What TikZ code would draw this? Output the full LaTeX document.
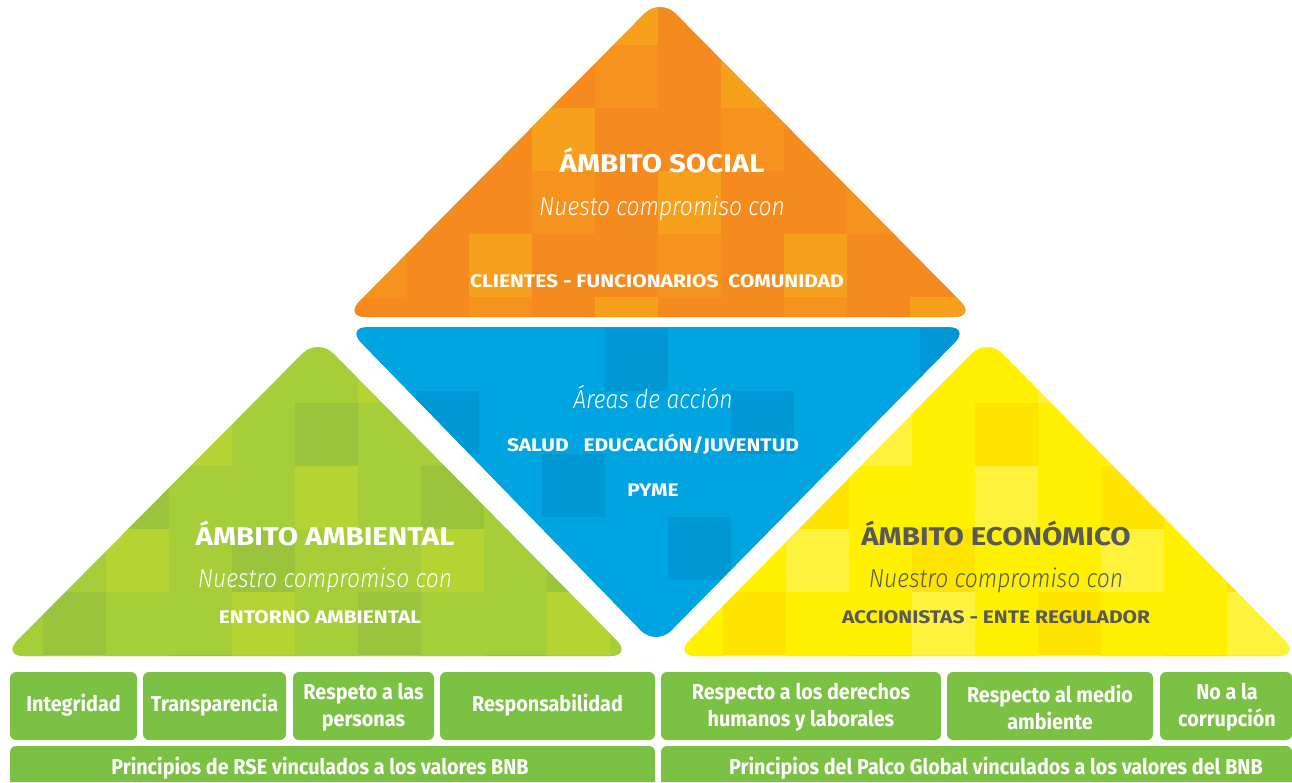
\documentclass[tikz,border=0pt]{standalone}
\usepackage{fontspec}
\setmainfont{Fira Sans}
\newfontfamily\wide{Fira Sans}[FakeStretch=1.15]
\newfontfamily\cond{Fira Sans}[FakeStretch=0.92]
\newfontfamily\lit{Fira Sans Light Italic}[FakeStretch=0.88]
\definecolor{or0}{HTML}{F58A1F}\definecolor{or1}{HTML}{F7A01B}\definecolor{or2}{HTML}{F6931E}
\definecolor{bl0}{HTML}{00A4E0}\definecolor{bl1}{HTML}{0098D4}\definecolor{bl2}{HTML}{00A4E0}
\definecolor{gr0}{HTML}{A6CE39}\definecolor{gr1}{HTML}{99C43B}\definecolor{gr2}{HTML}{B5D434}
\definecolor{ye0}{HTML}{FFF100}\definecolor{ye1}{HTML}{FFE400}\definecolor{ye2}{HTML}{FFF23C}
\definecolor{boxgreen}{HTML}{7BC143}
\definecolor{darkgray}{HTML}{58595B}
\newcommand\mosaic[5]{%
  \foreach \i in {0,...,#3}{\foreach \j in {0,...,#4}{%
    \pgfmathtruncatemacro\k{mod(\i*7+\j*11+\i*\j*5+abs(#1),5)}%
    \ifnum\k>2 \def\k{0}\fi
    \fill[#5\k] ({#1+\i*63},{#2+\j*63}) rectangle ++(63,63);}}}
\begin{document}
\begin{tikzpicture}[x=1pt,y=-1pt,
  title/.style={font=\wide\bfseries\fontsize{25.6}{30}\selectfont,text=white,inner sep=0},
  sub/.style={font=\lit\fontsize{26}{30}\selectfont,text=white,inner sep=0},
  keyw/.style={font=\wide\bfseries\fontsize{18.2}{22}\selectfont,text=white,inner sep=0},
  valbox/.style={fill=boxgreen,rounded corners=6pt},
  valtext/.style={font=\cond\bfseries\fontsize{21.5}{27}\selectfont,text=white,align=center,inner sep=0}]
\useasboundingbox (0,0) rectangle (1292,782);
\fill[white] (0,0) rectangle (1292,782);
% orange
\begin{scope}
\clip[rounded corners=22pt] (344,317) -- (660,-2) -- (976,317) -- cycle;
\fill[or0] (340,-5) rectangle (980,320);
\mosaic{343}{-18}{10}{5}{or}
\end{scope}
% blue
\begin{scope}
\clip[rounded corners=22pt] (346,327) -- (970,327) -- (656,646) -- cycle;
\fill[bl0] (340,320) rectangle (980,650);
\mosaic{353}{328}{10}{5}{bl}
\end{scope}
% green
\begin{scope}
\clip[rounded corners=22pt] (2,656) -- (318,338) -- (632,656) -- cycle;
\fill[gr0] (0,330) rectangle (640,660);
\mosaic{-20}{340}{10}{5}{gr}
\end{scope}
% yellow
\begin{scope}
\clip[rounded corners=22pt] (674,656) -- (987,338) -- (1300,656) -- cycle;
\fill[ye0] (670,330) rectangle (1300,660);
\mosaic{660}{340}{10}{5}{ye}
\end{scope}
% texts
\node[title] (st) at (662,160) {ÁMBITO SOCIAL};
\node[sub] (ss) at (662,208) {Nuesto compromiso con};
\node[keyw] (sk) at (657,281) {CLIENTES - FUNCIONARIOS\ \ COMUNIDAD};
\node[sub] (bs) at (653,397) {Áreas de acción};
\node[keyw] (bk1) at (653,444) {SALUD\ \ \ EDUCACIÓN/JUVENTUD};
\node[keyw] (bk2) at (653,490) {PYME};
\node[title] (gt) at (325,533) {ÁMBITO AMBIENTAL};
\node[sub] (gs) at (325,580) {Nuestro compromiso con};
\node[keyw] (gk) at (320,617) {ENTORNO AMBIENTAL};
\node[title,text=darkgray] (yt) at (996,533) {ÁMBITO ECONÓMICO};
\node[sub,text=darkgray] (ys) at (996,580) {Nuestro compromiso con};
\node[keyw,text=darkgray] (yk) at (996,617) {ACCIONISTAS - ENTE REGULADOR};
% value boxes
\fill[valbox] (10,672) rectangle (137,740);
\fill[valbox] (143,672) rectangle (286,740);
\fill[valbox] (293,672) rectangle (434,740);
\fill[valbox] (440,672) rectangle (655,740);
\fill[valbox] (661,672) rectangle (941,740);
\fill[valbox] (947,672) rectangle (1153,740);
\fill[valbox] (1160,672) rectangle (1292,740);
\fill[boxgreen,rounded corners=6pt] (10,782) -- (10,746) -- (655,746) [sharp corners] -- (655,782) -- cycle;
\fill[boxgreen,rounded corners=6pt] (661,782) -- (661,746) -- (1292,746) [sharp corners] -- (1292,782) -- cycle;
\node[valtext] (v1) at (73.5,705) {Integridad};
\node[valtext] (v2) at (214.5,705) {Transparencia};
\node[valtext] (v3) at (363.5,707) {Respeto a las\\personas};
\node[valtext] (v4) at (547.5,705) {Responsabilidad};
\node[valtext] (v5) at (801,707) {Respecto a los derechos\\humanos y laborales};
\node[valtext] (v6) at (1050,707) {Respecto al medio\\ambiente};
\node[valtext] (v7) at (1227,707) {No a la\\corrupción};
\node[valtext] (p1) at (320,768) {Principios de RSE vinculados a los valores BNB};
\node[valtext] (p2) at (996,768) {Principios del Palco Global vinculados a los valores del BNB};
\end{tikzpicture}
\end{document}
